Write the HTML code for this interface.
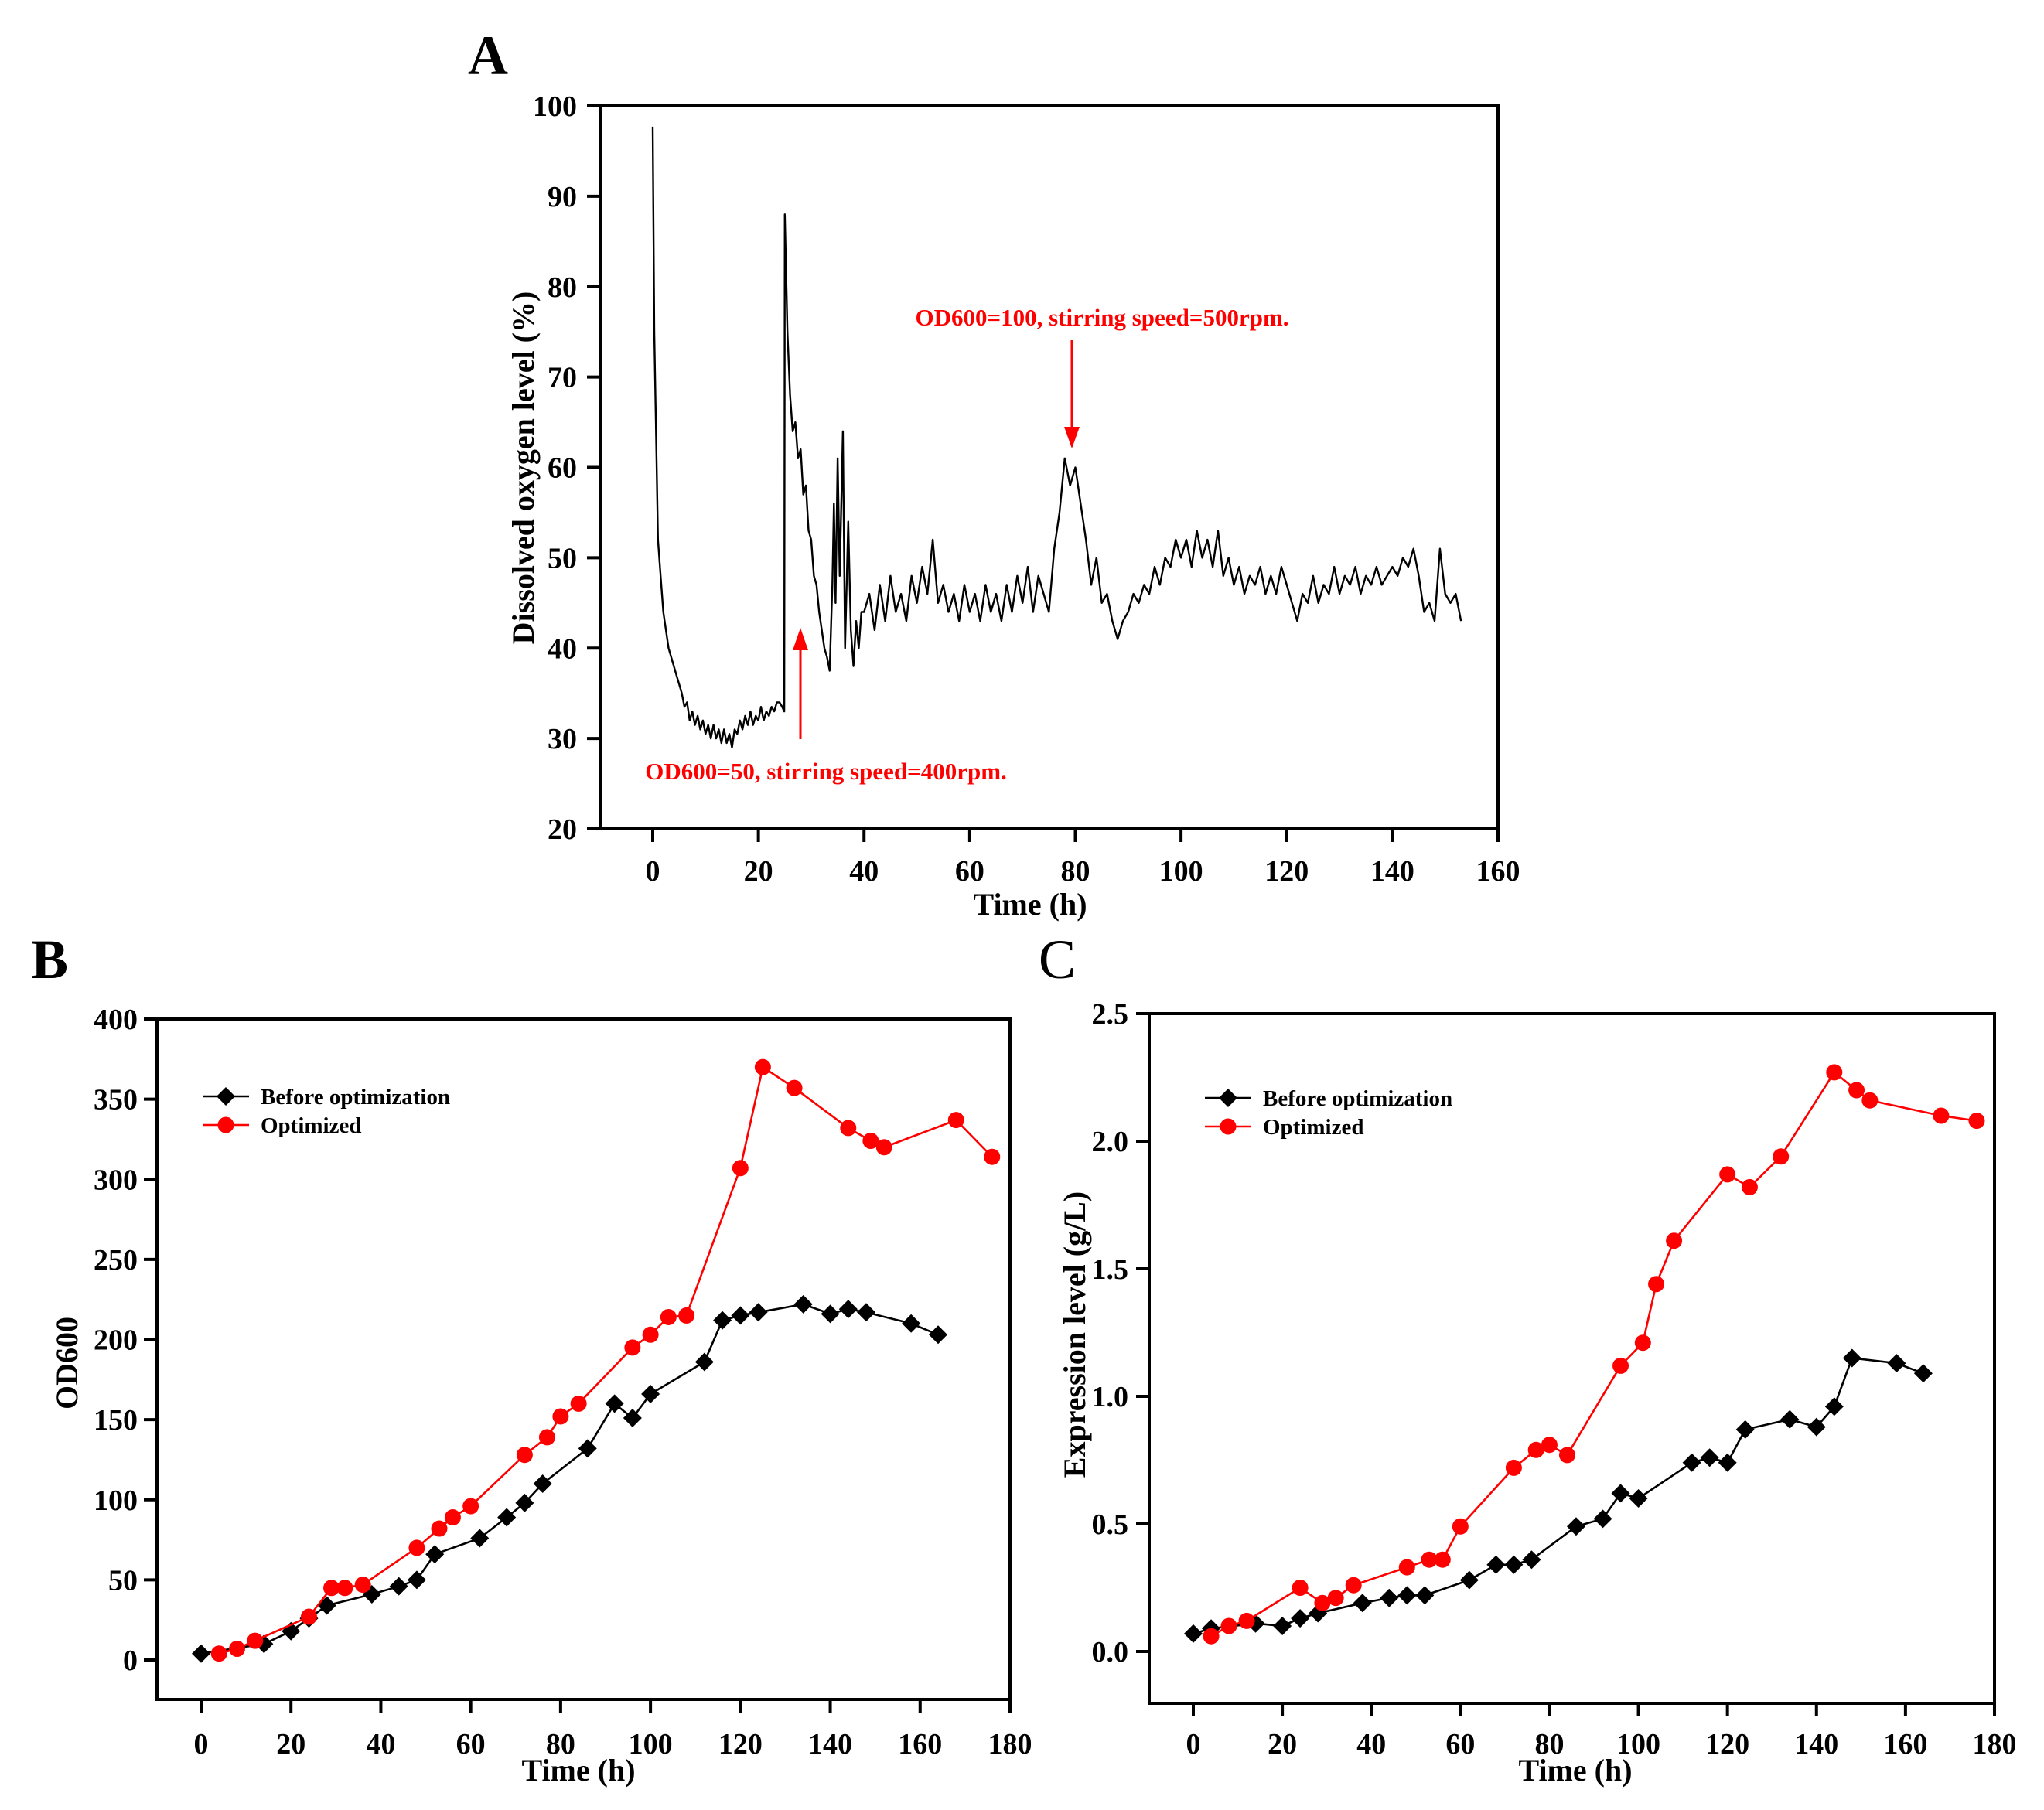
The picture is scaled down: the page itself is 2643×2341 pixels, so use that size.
<!DOCTYPE html>
<html><head><meta charset="utf-8"><style>
html,body{margin:0;padding:0;background:#fff;}
svg{display:block;font-family:"Liberation Serif",serif;}
</style></head><body>
<svg id="fig" width="2643" height="2341" viewBox="0 0 2643 2341" xmlns="http://www.w3.org/2000/svg">
<rect width="2643" height="2341" fill="#fff"/>
</svg>
<script>
// ---- Panel A data ----
const doTimes=[0,0.3,1,1.5,2,2.5,3,3.5,4,4.5,5,5.5,6,6.5,7,7.5,8,8.5,9,9.5,10,10.5,11,11.5,12,12.5,13,13.5,14,14.5,15,15.5,16,16.5,17,17.5,18,18.5,19,19.5,20,20.5,21,21.5,22,22.5,23,23.5,24,24.5,24.9,25,25.5,26,26.5,27,27.5,28,28.5,29,29.5,30,30.5,31,31.5,32,32.5,33,33.5,34,34.3,34.6,35,35.4,36,36.4,37,37.5,38,38.5,39,39.5,40,41,42,43,44,45,46,47,48,49,50,51,52,53,54,55,56,57,58,59,60,61,62,63,64,65,66,67,68,69,70,71,72,73,74,75,76,77,78,79,80,81,82,83,84,85,86,87,88,89,90,91,92,93,94,95,96,97,98,99,100,101,102,103,104,105,106,107,108,109,110,111,112,113,114,115,116,117,118,119,120,121,122,123,124,125,126,127,128,129,130,131,132,133,134,135,136,137,138,139,140,141,142,143,144,145,146,147,148,149,150,151,152,153];
const doValues=[97.7,75,52,48,44,42,40,39,38,37,36,35,33.5,34,32,33,31.5,32.5,31,32,30.5,31.5,30,31.5,30,31,29.5,31,29.5,30.5,29,31,30.5,32,31,32.5,31.5,33,31.5,32.5,32,33.5,32,33,32.5,33.5,33,34,34,33.5,33,88,75,68,64,65,61,62,57,58,53,52,48,47,44,42,40,39,37.5,47,56,45,61,48,64,40,54,42,38,43,40,44,44,46,42,47,43,48,44,46,43,48,45,49,46,52,45,47,44,46,43,47,44,46,43,47,44,46,43,47,44,48,45,49,44,48,46,44,51,55,61,58,60,56,52,47,50,45,46,43,41,43,44,46,45,47,46,49,47,50,49,52,50,52,49,53,50,52,49,53,48,50,47,49,46,48,47,49,46,48,46,49,47,45,43,46,45,48,45,47,46,49,46,48,47,49,46,48,47,49,47,48,49,48,50,49,51,48,44,45,43,51,46,45,46,43];
const doXTicks=[0,20,40,60,80,100,120,140,160];
const doYTicks=[20,30,40,50,60,70,80,90,100];

// ---- Panel B data ----
const odBeforeT=[0,14,20,24,28,38,44,48,52,62,68,72,76,86,92,96,100,112,116,120,124,134,140,144,148,158,164];
const odBeforeV=[4,10,18,26,34,41,46,50,66,76,89,98,110,132,160,151,166,186,212,215,217,222,216,219,217,210,203];
const odOptT=[4,8,12,24,29,32,36,48,53,56,60,72,77,80,84,96,100,104,108,120,125,132,144,149,152,168,176];
const odOptV=[4,7,12,27,45,45,47,70,82,89,96,128,139,152,160,195,203,214,215,307,370,357,332,324,320,337,314];
const odXTicks=[0,20,40,60,80,100,120,140,160,180];
const odYTicks=[0,50,100,150,200,250,300,350,400];

// ---- Panel C data ----
const exBeforeT=[0,4,14,20,24,28,38,44,48,52,62,68,72,76,86,92,96,100,112,116,120,124,134,140,144,148,158,164];
const exBeforeV=[0.07,0.09,0.11,0.10,0.13,0.15,0.19,0.21,0.22,0.22,0.28,0.34,0.34,0.36,0.49,0.52,0.62,0.60,0.74,0.76,0.74,0.87,0.91,0.88,0.96,1.15,1.13,1.09];
const exOptT=[4,8,12,24,29,32,36,48,53,56,60,72,77,80,84,96,101,104,108,120,125,132,144,149,152,168,176];
const exOptV=[0.06,0.10,0.12,0.25,0.19,0.21,0.26,0.33,0.36,0.36,0.49,0.72,0.79,0.81,0.77,1.12,1.21,1.44,1.61,1.87,1.82,1.94,2.27,2.20,2.16,2.10,2.08];
const exXTicks=[0,20,40,60,80,100,120,140,160,180];
const exYTicks=["0.0","0.5","1.0","1.5","2.0","2.5"];

const NS="http://www.w3.org/2000/svg";
const svg=document.getElementById('fig');
function el(tag,attrs,parent,text){const e=document.createElementNS(NS,tag);for(const k in attrs)e.setAttribute(k,attrs[k]);if(text!==undefined)e.textContent=text;(parent||svg).appendChild(e);return e;}
function lin(d0,d1,p0,p1){return v=>p0+(v-d0)*(p1-p0)/(d1-d0);}

// ===== Panel A =====
{
const g=el('g',{});


const L=776,R=1937,T=137,B=1072;
const x=lin(0,160,844,1937), y=lin(20,100,1072,137);
let t=el('text',{x:631,y:96,'font-size':72,'font-weight':'bold','text-anchor':'middle'},g,'A');

let d='';
for(let i=0;i<doTimes.length;i++){d+=(i?'L':'M')+x(doTimes[i]).toFixed(1)+' '+y(doValues[i]).toFixed(1);}
let p=el('path',{d:d,fill:'none',stroke:'#000','stroke-width':2.4,'stroke-linejoin':'round'},g);

let f=el('rect',{x:L,y:T,width:R-L,height:B-T,fill:'none',stroke:'#000','stroke-width':4},g);

doXTicks.forEach(v=>{const xx=x(v);
 el('line',{x1:xx,y1:B,x2:xx,y2:B+17,stroke:'#000','stroke-width':4},g);
 const tl=el('text',{x:xx,y:1139,'font-size':38,'font-weight':'bold','text-anchor':'middle'},g,String(v));
 });
doYTicks.forEach(v=>{const yy=y(v);
 el('line',{x1:L-17,y1:yy,x2:L,y2:yy,stroke:'#000','stroke-width':4},g);
 const tl=el('text',{x:746,y:yy+13,'font-size':38,'font-weight':'bold','text-anchor':'end'},g,String(v));
 });
t=el('text',{x:1332,y:1183,'font-size':40,'font-weight':'bold','text-anchor':'middle'},g,'Time (h)');

t=el('text',{x:0,y:0,'font-size':40,'font-weight':'bold','text-anchor':'middle',transform:'translate(690,605) rotate(-90)'},g,'Dissolved oxygen level (%)');

// annotations
t=el('text',{x:1425,y:421,'font-size':31,'font-weight':'bold',fill:'#ff0000','text-anchor':'middle'},g,'OD600=100, stirring speed=500rpm.');

el('line',{x1:1386,y1:440,x2:1386,y2:555,stroke:'#ff0000','stroke-width':3},g);
el('polygon',{points:'1376,552 1396,552 1386,580',fill:'#ff0000'},g);
t=el('text',{x:1068,y:1008,'font-size':31,'font-weight':'bold',fill:'#ff0000','text-anchor':'middle'},g,'OD600=50, stirring speed=400rpm.');

el('line',{x1:1035,y1:956,x2:1035,y2:838,stroke:'#ff0000','stroke-width':3},g);
el('polygon',{points:'1025,841 1045,841 1035,812',fill:'#ff0000'},g);
}

function diamond(g,cx,cy,r,fill){return el('polygon',{points:`${cx},${cy-r} ${cx+r},${cy} ${cx},${cy+r} ${cx-r},${cy}`,fill:fill},g);}

function drawPanel(o){
 const g=el('g',{});
 
 
 const {L,R,T,B}=o;
 const x=lin(0,180,o.x0,R), y=lin(o.ymin,o.ymax,o.y0,T);
 let t=el('text',{x:o.lx,y:1265,'font-size':72,'font-weight':o.lw,'text-anchor':'middle'},g,o.letter);
 
 let f=el('rect',{x:L,y:T,width:R-L,height:B-T,fill:'none',stroke:'#000','stroke-width':4},g);
 
 o.xt.forEach(v=>{const xx=x(v);
  el('line',{x1:xx,y1:B,x2:xx,y2:B+17,stroke:'#000','stroke-width':4},g);
  const tl=el('text',{x:xx,y:2268,'font-size':38,'font-weight':'bold','text-anchor':'middle'},g,String(v));
  });
 o.yt.forEach(v=>{const yy=y(parseFloat(v));
  el('line',{x1:L-17,y1:yy,x2:L,y2:yy,stroke:'#000','stroke-width':4},g);
  const tl=el('text',{x:o.ylx,y:yy+13,'font-size':38,'font-weight':'bold','text-anchor':'end'},g,String(v));
  });
 t=el('text',{x:o.xtx,y:2303,'font-size':40,'font-weight':'bold','text-anchor':'middle'},g,'Time (h)');
 
 t=el('text',{x:0,y:0,'font-size':40,'font-weight':'bold','text-anchor':'middle',transform:`translate(${o.ytx},${o.yty}) rotate(-90)`},g,o.ytitle);
 
 // series
 const series=[[o.bT,o.bV,'#000','d','before-optimization-series'],[o.oT,o.oV,'#ff0000','c','optimized-series']];
 series.forEach(s=>{
  const sg=el('g',{},g);
  
  let d='';s[0].forEach((tt,i)=>{d+=(i?'L':'M')+x(tt).toFixed(1)+' '+y(s[1][i]).toFixed(1);});
  el('path',{d:d,fill:'none',stroke:s[2],'stroke-width':2.6},sg);
  s[0].forEach((tt,i)=>{
   const m=s[3]==='d'?diamond(sg,x(tt),y(s[1][i]),12,s[2]):el('circle',{cx:x(tt),cy:y(s[1][i]),r:10.5,fill:s[2]},sg);
   
   
  });
 });
 // legend
 const lg=el('g',{},g);
 
 const ents=[['Before optimization','#000','d',o.legY],['Optimized','#ff0000','c',o.legY+37]];
 ents.forEach(e=>{
  const eg=el('g',{},lg);
  
  el('line',{x1:o.legX,y1:e[3],x2:o.legX+60,y2:e[3],stroke:e[1],'stroke-width':2.6},eg);
  if(e[2]==='d')diamond(eg,o.legX+30,e[3],12,e[1]);else el('circle',{cx:o.legX+30,cy:e[3],r:10.5,fill:e[1]},eg);
  el('text',{x:o.legX+75,y:e[3]+10,'font-size':29,'font-weight':'bold'},eg,e[0]);
 });
}

drawPanel({name:'panel-b',letter:'B',lw:'bold',lx:64,L:203,R:1306,T:1318,B:2198,x0:260,y0:2147,ymin:0,ymax:400,
 xt:odXTicks,yt:odYTicks,ylx:178,xtx:748,ytx:100,yty:1763,ytitle:'OD600',
 bT:odBeforeT,bV:odBeforeV,oT:odOptT,oV:odOptV,legX:262,legY:1418});
drawPanel({name:'panel-c',letter:'C',lw:'normal',lx:1367,L:1486,R:2579,T:1311,B:2203,x0:1543,y0:2136,ymin:0,ymax:2.5,
 xt:exXTicks,yt:exYTicks,ylx:1459,xtx:2037,ytx:1403,yty:1726,ytitle:'Expression level (g/L)',
 bT:exBeforeT,bV:exBeforeV,oT:exOptT,oV:exOptV,legX:1558,legY:1420});
</script>
</body></html>
